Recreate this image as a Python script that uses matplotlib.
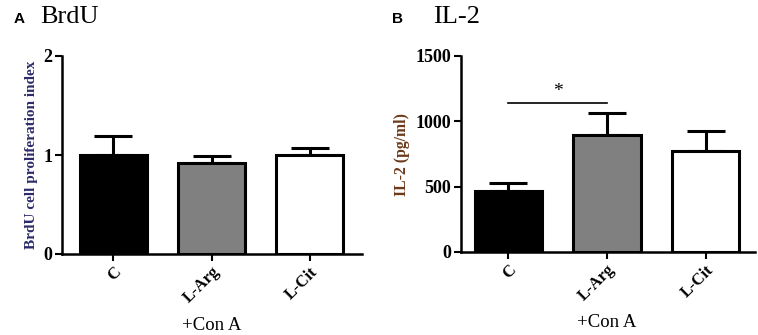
import numpy as np
import matplotlib.pyplot as plt

groups = ['C', 'L-Arg', 'L-Cit']
colors = ['black', '#808080', 'white']

brdu_mean = [1.0, 0.92, 1.0]
brdu_err = [0.19, 0.07, 0.07]

il2_mean = [469, 895, 775]
il2_err = [57, 171, 153]

plt.rcParams['font.family'] = ['Liberation Serif', 'DejaVu Serif']

fig = plt.figure(figsize=(7.58, 3.35), dpi=100)
W, H = 758.0, 335.0

def panel(rect, means, errs, ylim, yticks, ylabel, lab_color, lab_size, xlim):
    ax = fig.add_axes(rect)
    x = np.arange(len(groups))
    ax.bar(x, means, width=0.68, color=colors, edgecolor='black', linewidth=2.2, zorder=2)
    ax.errorbar(x, means, yerr=[np.zeros(len(errs)), errs], fmt='none', ecolor='black',
                elinewidth=2.2, capsize=14, capthick=2.2, zorder=1)
    ax.set_xlim(*xlim)
    ax.set_ylim(*ylim)
    ax.set_yticks(yticks)
    ax.set_xticks(x)
    ax.set_xticklabels(groups, rotation=45, ha='right', rotation_mode='anchor',
                       fontweight='bold', fontsize=12)
    for t in ax.get_yticklabels():
        t.set_fontweight('bold')
        t.set_fontsize(13)
    ax.spines['top'].set_visible(False)
    ax.spines['right'].set_visible(False)
    ax.spines['left'].set_linewidth(1.8)
    ax.spines['bottom'].set_linewidth(1.8)
    ax.tick_params(width=1.5, length=5, direction='out', pad=2)
    ax.set_ylabel(ylabel, fontweight='bold', fontsize=lab_size, color=lab_color, labelpad=4)
    ax.annotate('+Con A', xy=(1, -0.36), xycoords=('data', 'axes fraction'),
                ha='center', va='center', fontsize=13.5)
    return ax

axA = panel([62 / W, 81 / H, 300 / W, 198 / H], brdu_mean, brdu_err, (0, 2), [0, 1, 2],
            'BrdU cell proliferation index', '#2b2b6b', 11, (-0.52, 2.53))
axB = panel([461 / W, 83 / H, 294 / W, 196 / H], il2_mean, il2_err, (0, 1500), [0, 500, 1000, 1500],
            'IL-2 (pg/ml)', '#6b3a1a', 11.3, (-0.48, 2.5))

# significance bar C vs L-Arg
axB.plot([0, 1], [1143, 1143], color='black', lw=1.2)
axB.text(0.5, 1165, '*', ha='center', va='bottom', fontsize=14)

fig.text(14 / W, 1 - 19 / H, 'A', family='Liberation Sans', fontweight='bold', fontsize=11, va='center')
fig.text(40 / W, 1 - 17 / H, 'BrdU', fontsize=19, va='center')
fig.text(392 / W, 1 - 19 / H, 'B', family='Liberation Sans', fontweight='bold', fontsize=11, va='center')
fig.text(433 / W, 1 - 17 / H, 'IL-2', fontsize=19, va='center')

fig.savefig('out.png', dpi=100)
